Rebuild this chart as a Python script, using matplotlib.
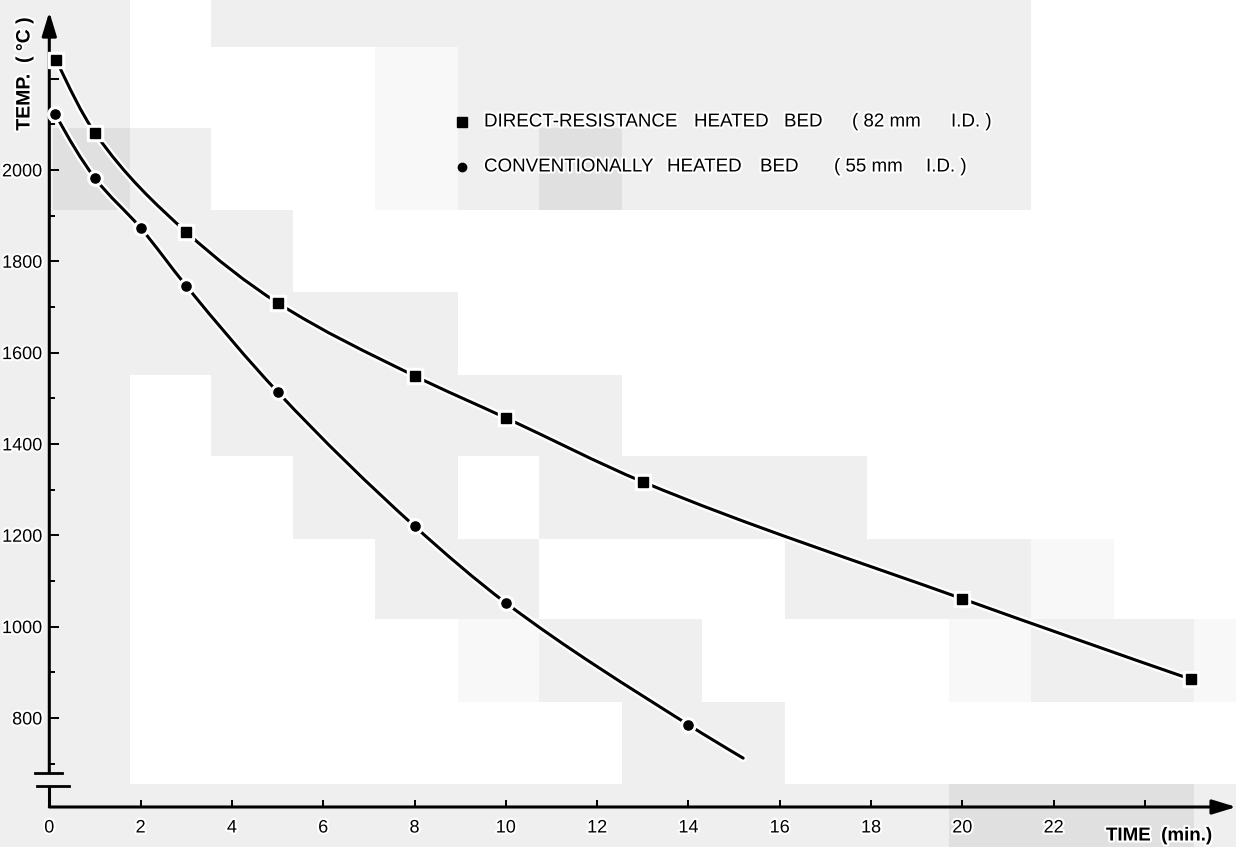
import numpy as np
import matplotlib
matplotlib.use("Agg")
import matplotlib.pyplot as plt
import matplotlib.patheffects as pe
from matplotlib.patches import Rectangle, PathPatch
from matplotlib.path import Path
from matplotlib.ticker import MultipleLocator

# direct-resistance heated bed (82 mm I.D.)
t_direct = [0.15, 1, 3, 5, 8, 10, 13, 20, 25]
temp_direct = [2241, 2081, 1864, 1709, 1549, 1457, 1317, 1061, 885]

# conventionally heated bed (55 mm I.D.)
t_conv = [0.13, 1, 2, 3, 5, 8, 10, 14]
temp_conv = [2123, 1982, 1873, 1746, 1514, 1220, 1052, 785]
# the drawn curve runs on a little past the last measured point
t_conv_end = 15.2
temp_conv_end = 712

xticks = list(range(0, 26, 2))
xlabels = [str(v) if v <= 22 else "" for v in xticks]
yticks = [800, 1000, 1200, 1400, 1600, 1800, 2000, 2200]
ylabels = [str(v) if v <= 2000 else "" for v in yticks]

W, H = 1236, 847
BREAK_HI, BREAK_LO = 680, 650

# scan background (grey blocks of the original picture)
col_edges = [0, 53, 130, 211, 293, 375, 458, 539, 622, 702, 785, 867, 949, 1031, 1114, 1194, 1236]
row_edges = [0, 47, 128, 210, 292, 375, 456, 539, 619, 702, 784, 847]
bg_rows = [
    "ggwggggggggggwww",
    "ggwwwlgggggggwww",
    "gdgwwlgdgggggwww",
    "ggggwwwwwwwwwwww",
    "ggggggwwwwwwwwww",
    "ggwgggggwwwwwwww",
    "ggwwggwggggwwwww",
    "ggwwwggwwwggglww",
    "ggwwwwlggwwwlggl",
    "ggwwwwwwggwwwwww",
    "ggggggggggggdddg",
]
bg_col = {"g": "#efefef", "d": "#e0e0e0", "l": "#f8f8f8"}

fig = plt.figure(figsize=(W / 100, H / 100), dpi=100)
fig.patch.set_facecolor("white")

for r, row in enumerate(bg_rows):
    for c, ch in enumerate(row):
        if ch == "w":
            continue
        x0, x1 = col_edges[c], col_edges[c + 1]
        y0, y1 = row_edges[r], row_edges[r + 1]
        fig.patches.append(Rectangle((x0 / W, 1 - y1 / H), (x1 - x0) / W, (y1 - y0) / H,
                                     transform=fig.transFigure, facecolor=bg_col[ch],
                                     edgecolor="none", zorder=-10))

# axes placed so that the scale matches the original
x0px, y0px = 49.3, 807
pxu_x, pxu_y = 45.65, 0.4567
xmax, ymin, ymax = 26.0, 605, 2346
ax = fig.add_axes([x0px / W, (H - y0px) / H, xmax * pxu_x / W, (ymax - ymin) * pxu_y / H])
ax.set_zorder(1)
ax.set_facecolor("none")
ax.set_xlim(0, xmax)
ax.set_ylim(ymin, ymax)
for s in ax.spines.values():
    s.set_visible(False)

num_font = ["Liberation Sans Narrow", "Liberation Sans", "DejaVu Sans"]
txt_font = ["Liberation Sans", "DejaVu Sans"]
halo = [pe.withStroke(linewidth=3, foreground="white")]

ax.set_xticks(xticks)
ax.set_xticklabels(xlabels, fontfamily=num_font, fontsize=13)
ax.set_yticks(yticks)
ax.set_yticklabels(ylabels, fontfamily=num_font, fontsize=13)
ax.yaxis.set_minor_locator(MultipleLocator(100))
ax.tick_params(axis="y", which="major", direction="in", length=7, width=1.4, pad=5)
ax.tick_params(axis="y", which="minor", direction="in", length=4, width=1.4)
ax.tick_params(axis="x", which="major", direction="in", length=5, width=1.4, pad=9)
for lab in ax.get_xticklabels() + ax.get_yticklabels():
    lab.set_path_effects(halo)

# axis lines with arrows and the break on the temperature axis
arrow = dict(arrowstyle="-|>,head_length=0.72,head_width=0.22", mutation_scale=20,
             lw=2.2, color="black", shrinkA=0, shrinkB=0)
ax.annotate("", xy=(0, ymax), xytext=(0, BREAK_HI), arrowprops=arrow, annotation_clip=False)
ax.annotate("", xy=(xmax, ymin), xytext=(0, ymin), arrowprops=arrow, annotation_clip=False)
ax.plot([0, 0], [ymin, BREAK_LO], color="black", lw=2.2, clip_on=False, solid_capstyle="butt")
ax.plot([-0.31, 0.28], [BREAK_HI, BREAK_HI], color="black", lw=2, clip_on=False)
ax.plot([-0.27, 0.43], [BREAK_LO, BREAK_LO], color="black", lw=2, clip_on=False)


def smooth_path(x, y):
    # monotone cubic (Fritsch-Carlson) as bezier segments, drawn by matplotlib
    x = np.asarray(x, float)
    y = np.asarray(y, float)
    h = np.diff(x)
    d = np.diff(y) / h
    m = np.zeros_like(x)
    for i in range(1, len(x) - 1):
        if d[i - 1] * d[i] > 0:
            w1 = 2 * h[i] + h[i - 1]
            w2 = h[i] + 2 * h[i - 1]
            m[i] = (w1 + w2) / (w1 / d[i - 1] + w2 / d[i])
    m[0] = ((2 * h[0] + h[1]) * d[0] - h[0] * d[1]) / (h[0] + h[1])
    m[-1] = ((2 * h[-1] + h[-2]) * d[-1] - h[-1] * d[-2]) / (h[-1] + h[-2])
    verts = [(x[0], y[0])]
    codes = [Path.MOVETO]
    for i in range(len(x) - 1):
        verts += [(x[i] + h[i] / 3, y[i] + m[i] * h[i] / 3),
                  (x[i + 1] - h[i] / 3, y[i + 1] - m[i + 1] * h[i] / 3),
                  (x[i + 1], y[i + 1])]
        codes += [Path.CURVE4] * 3
    return Path(verts, codes)


line_fx = [pe.Stroke(linewidth=5.5, foreground="white"), pe.Normal()]
ax.add_patch(PathPatch(smooth_path(t_direct, temp_direct), fill=False, lw=2.2,
                       edgecolor="black", capstyle="round", path_effects=line_fx, zorder=3))
ax.add_patch(PathPatch(smooth_path(t_conv + [t_conv_end], temp_conv + [temp_conv_end]),
                       fill=False, lw=2.2, edgecolor="black", capstyle="round",
                       path_effects=line_fx, zorder=3))

ax.plot(t_direct, temp_direct, ls="none", marker="s", ms=12, color="white", zorder=4, clip_on=False)
ax.plot(t_direct, temp_direct, ls="none", marker="s", ms=7.4, color="black", zorder=5, clip_on=False)
ax.plot(t_conv, temp_conv, ls="none", marker="o", ms=11, color="white", zorder=4, clip_on=False)
ax.plot(t_conv, temp_conv, ls="none", marker="o", ms=6.6, color="black", zorder=5, clip_on=False)


def ftext(x, y, s, **kw):
    fig.text(x / W, 1 - y / H, s, path_effects=halo, **kw)


# legend
fig.add_artist(plt.Line2D([462 / W], [1 - 122 / H], marker="s", ms=6.5, color="black",
                          transform=fig.transFigure))
fig.add_artist(plt.Line2D([462 / W], [1 - 167 / H], marker="o", ms=6, color="black",
                          transform=fig.transFigure))
leg1 = [(484, "DIRECT-RESISTANCE"), (694, "HEATED"), (784, "BED"), (852, "( 82 mm"), (951, "I.D. )")]
leg2 = [(484, "CONVENTIONALLY"), (667, "HEATED"), (760, "BED"), (834, "( 55 mm"), (926, "I.D. )")]
for x, s in leg1:
    ftext(x, 122, s, fontsize=13.5, fontfamily=txt_font, va="center", ha="left")
for x, s in leg2:
    ftext(x, 167, s, fontsize=13.5, fontfamily=txt_font, va="center", ha="left")

# axis titles
ftext(25, 74, "TEMP.  ( °C )", fontsize=14, fontfamily=txt_font, fontweight="bold",
      rotation=90, va="center", ha="center")
ftext(1159, 836, "TIME  (min.)", fontsize=13.5, fontfamily=txt_font, fontweight="bold",
      va="center", ha="center")

fig.savefig("out.png", dpi=100)
